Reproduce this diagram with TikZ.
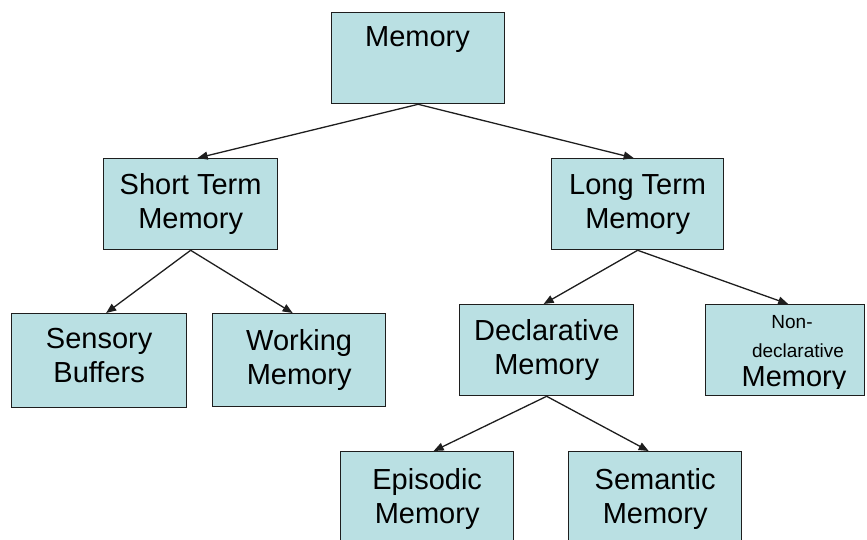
\documentclass[tikz,border=0pt]{standalone}
\usepackage{fontspec}
\setmainfont{Liberation Sans}
\usetikzlibrary{arrows.meta}
\definecolor{boxfill}{RGB}{186,224,227}
\definecolor{edge}{RGB}{30,30,30}
\begin{document}
\begin{tikzpicture}[x=1pt,y=-1pt,
  box/.style={draw=edge,line width=1.3pt,fill=boxfill,rectangle,inner sep=0pt,
    anchor=north west,align=center,minimum width=173pt,minimum height=91pt,
    font=\fontsize{29}{34}\selectfont},
  link/.style={draw=edge,line width=1.3pt,-{Triangle[length=10pt,width=8pt]}},
  txt/.style={inner sep=0pt,anchor=base}]
\useasboundingbox (0,0) rectangle (867,540);
\begin{scope}
\clip (0,0) rectangle (867,540);
% boxes
\node[box] (mem) at (331,12) {};
\node[txt,font=\fontsize{29}{34}\selectfont] (memtext) at (417.5,47) {Memory};
\node[box,minimum width=174pt] (stm) at (103,158) {Short Term\\Memory};
\node[box,minimum width=172pt] (ltm) at (551,158) {Long Term\\Memory};
\node[box,minimum width=175pt,minimum height=94pt,text depth=10pt] (sen) at (11,313) {Sensory\\Buffers};
\node[box,minimum width=173pt,minimum height=93pt] (wrk) at (212,313) {Working\\Memory};
\node[box,minimum width=174pt,minimum height=91pt,text depth=6pt] (dec) at (459,304) {Declarative\\Memory};
\node[box,minimum width=159pt,minimum height=91pt] (nd) at (705,304) {};
\node[box,minimum width=173pt,minimum height=95pt] (epi) at (340,451) {Episodic\\Memory};
\node[box,minimum width=173pt,minimum height=95pt] (sem) at (568,451) {Semantic\\Memory};
\end{scope}
\begin{scope}
\clip (705,304) rectangle (864,388.5);
\node[txt,font=\fontsize{19}{22}\selectfont] (nd1) at (792,328) {Non-};
\node[txt,font=\fontsize{19}{22}\selectfont] (nd2) at (798,357) {declarative};
\node[txt,font=\fontsize{29}{34}\selectfont] (nd3) at (794,386) {Memory};
\end{scope}
% connectors
\draw[link] (mem.south) -- ([xshift=7pt]stm.north);
\draw[link] (mem.south) -- ([xshift=-4pt]ltm.north);
\draw[link] (stm.south) -- ([xshift=7pt]sen.north);
\draw[link] (stm.south) -- ([xshift=-6.5pt]wrk.north);
\draw[link] (ltm.south) -- ([xshift=-94pt]ltm.south |- dec.north);
\draw[link] (ltm.south) -- ([xshift=3pt]nd.north);
\draw[link] (dec.south) -- ([xshift=6.5pt]epi.north);
\draw[link] (dec.south) -- ([xshift=-6.5pt]sem.north);
\end{tikzpicture}
\end{document}
